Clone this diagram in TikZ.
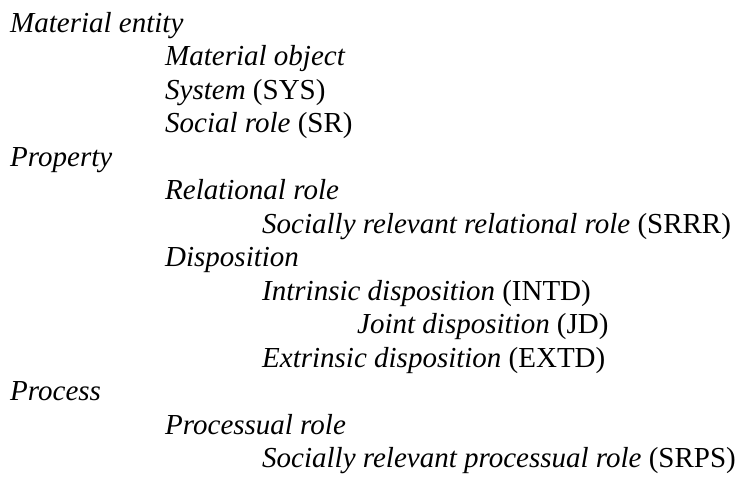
\documentclass[tikz,border=0pt]{standalone}
\usepackage{fontspec}
\setmainfont{Liberation Serif}
\begin{document}
\begin{tikzpicture}[x=1pt,y=-1pt,
  lbl/.style={anchor=base west, inner sep=0pt, font=\fontsize{29}{35}\selectfont}]
\useasboundingbox (0,0) rectangle (739,479);
\def\la{10}\def\lb{165}\def\lc{262}\def\ld{357}
\node[lbl] (me)   at (\la,32)    {\textit{Material entity}};
\node[lbl] (mo)   at (\lb,65.5)  {\textit{Material object}};
\node[lbl] (sys)  at (\lb,99)    {\textit{System} (SYS)};
\node[lbl] (sr)   at (\lb,132.5) {\textit{Social role} (SR)};
\node[lbl] (prop) at (\la,166)   {\textit{Property}};
\node[lbl] (rr)   at (\lb,199.5) {\textit{Relational role}};
\node[lbl] (srrr) at (\lc,233)   {\textit{Socially relevant relational role} (SRRR)};
\node[lbl] (disp) at (\lb,266.5) {\textit{Disposition}};
\node[lbl] (intd) at (\lc,300)   {\textit{Intrinsic disposition} (INTD)};
\node[lbl] (jd)   at (\ld,333.5) {\textit{Joint disposition} (JD)};
\node[lbl] (extd) at (\lc,367)   {\textit{Extrinsic disposition} (EXTD)};
\node[lbl] (proc) at (\la,400.5) {\textit{Process}};
\node[lbl] (pr)   at (\lb,434)   {\textit{Processual role}};
\node[lbl] (srps) at (\lc,467.5) {\textit{Socially relevant processual role} (SRPS)};
\end{tikzpicture}
\end{document}
